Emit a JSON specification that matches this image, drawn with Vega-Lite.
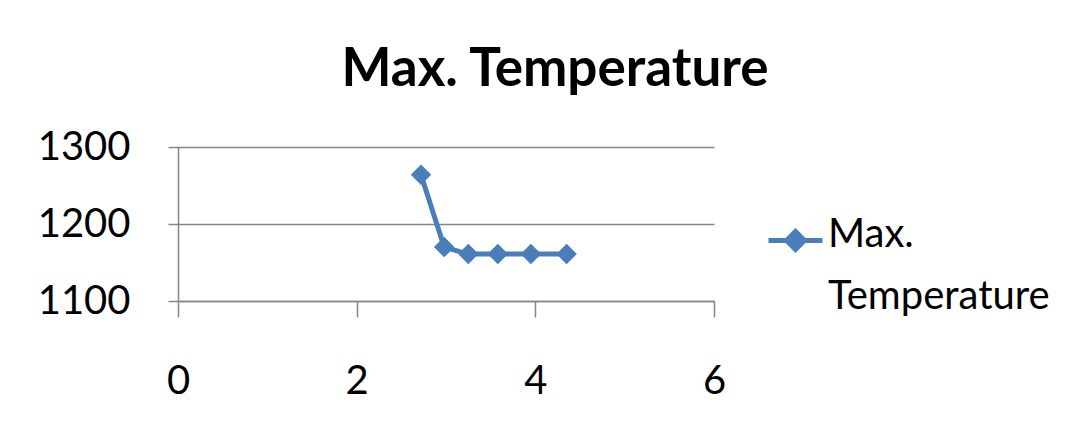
{
  "$schema": "https://vega.github.io/schema/vega-lite/v6.json",
  "autosize": "none",
  "width": 536,
  "height": 154,
  "padding": {"left": 178, "top": 147, "right": 378, "bottom": 127},
  "background": "white",
  "config": {
    "font": "Lato",
    "view": {"stroke": null},
    "axis": {
      "domainColor": "#868686",
      "domainWidth": 1.5,
      "tickColor": "#868686",
      "tickWidth": 1.5,
      "gridColor": "#868686",
      "gridWidth": 1.5,
      "labelFont": "Lato",
      "labelFontSize": 40,
      "labelColor": "black",
      "title": null
    }
  },
  "title": {
    "text": "Max. Temperature",
    "font": "Lato",
    "fontSize": 53,
    "fontWeight": "bold",
    "color": "black",
    "anchor": "middle",
    "dx": 109,
    "offset": 30,
    "limit": 0
  },
  "data": {
    "values": [
      {"x": 2.72, "temp": 1264, "series": "Max. Temperature"},
      {"x": 2.98, "temp": 1170, "series": "Max. Temperature"},
      {"x": 3.25, "temp": 1161, "series": "Max. Temperature"},
      {"x": 3.58, "temp": 1161, "series": "Max. Temperature"},
      {"x": 3.95, "temp": 1161, "series": "Max. Temperature"},
      {"x": 4.35, "temp": 1161, "series": "Max. Temperature"}
    ]
  },
  "mark": {
    "type": "line",
    "strokeWidth": 5,
    "point": {"shape": "diamond", "size": 420, "filled": true, "opacity": 1}
  },
  "encoding": {
    "x": {
      "field": "x",
      "type": "quantitative",
      "scale": {"domain": [0, 6]},
      "axis": {
        "values": [0, 2, 4, 6],
        "format": "d",
        "grid": false,
        "tickSize": 16,
        "labelPadding": 44,
        "labelFlush": false
      }
    },
    "y": {
      "field": "temp",
      "type": "quantitative",
      "scale": {"domain": [1100, 1300], "zero": false},
      "axis": {
        "values": [1100, 1200, 1300],
        "format": "d",
        "tickSize": 10,
        "labelPadding": 38
      }
    },
    "color": {
      "field": "series",
      "type": "nominal",
      "scale": {"range": ["#4a7ebb"]},
      "legend": {
        "title": null,
        "orient": "none",
        "legendX": 588,
        "legendY": 64,
        "padding": 0,
        "symbolType": "M-1,0L1,0M-0.33,0L0,-0.33L0.33,0L0,0.33Z",
        "symbolSize": 2916,
        "symbolStrokeWidth": 5,
        "symbolFillColor": "#4a7ebb",
        "symbolStrokeColor": "#4a7ebb",
        "labelFont": "Lato",
        "labelFontSize": 40,
        "labelColor": "black",
        "labelLimit": 400,
        "labelOffset": 3,
        "labelExpr": "['Max.', 'Temperature']",
        "labelBaseline": "middle",
        "encode": {
          "labels": {"update": {"lineHeight": {"value": 62}, "dy": {"value": -6}}},
          "symbols": {"update": {"fill": {"value": "#4a7ebb"}, "stroke": {"value": "#4a7ebb"}}}
        }
      }
    }
  }
}
